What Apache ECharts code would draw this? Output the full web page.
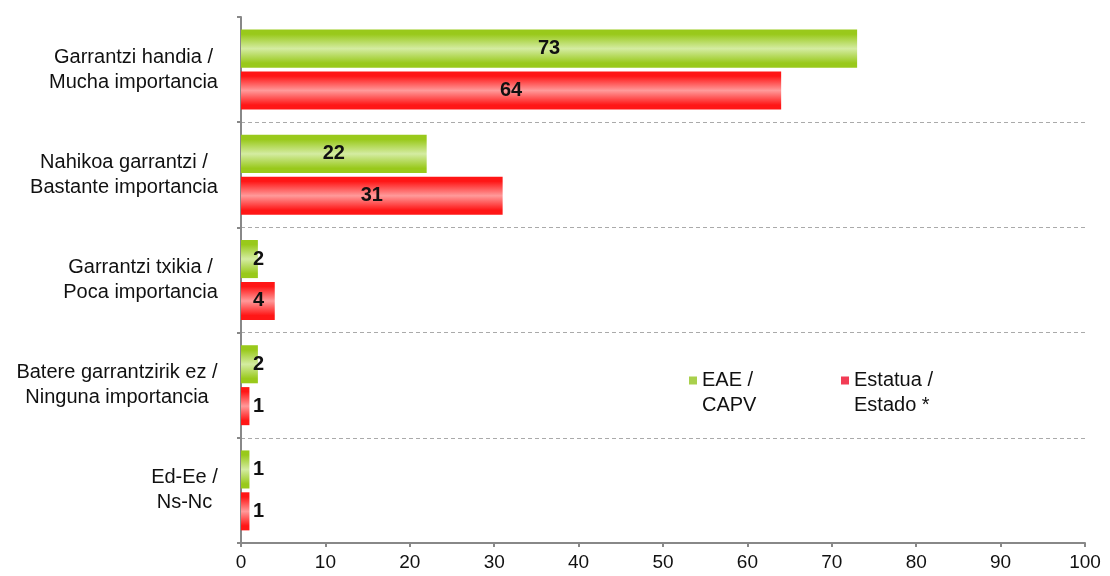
<!DOCTYPE html>
<html>
<head>
<meta charset="utf-8">
<script src="https://cdn.jsdelivr.net/npm/echarts@6/dist/echarts.min.js"></script>
<style>
  html, body { margin: 0; padding: 0; background: #fff; }
  #chart { width: 1110px; height: 576px; }
</style>
</head>
<body>
<div id="chart"></div>
<script>
// categories, top to bottom
var categories = [
  'Garrantzi handia /\nMucha importancia',
  'Nahikoa garrantzi /\nBastante importancia',
  'Garrantzi txikia /\nPoca importancia',
  'Batere garrantzirik ez /\nNinguna importancia',
  'Ed-Ee /\nNs-Nc'
];
var seriesNames = ['EAE /\nCAPV', 'Estatua /\nEstado *'];
var eaeValues = [73, 22, 2, 2, 1];
var estadoValues = [64, 31, 4, 1, 1];

var font = 'Liberation Sans, Arial, sans-serif';
var labelSize = 20;

// each label block: lines centred inside the block, block right-aligned to the axis
var ctx = document.createElement('canvas').getContext('2d');
ctx.font = labelSize + 'px "Liberation Sans"';
var rich = {};
categories.forEach(function (c, i) {
  var w = 0;
  c.split('\n').forEach(function (l) {
    w = Math.max(w, ctx.measureText(l).width);
  });
  rich['c' + i] = {
    width: Math.ceil(w),
    align: 'center',
    fontFamily: font,
    fontSize: labelSize,
    lineHeight: 25,
    color: '#111'
  };
});

// bar fill: dark edges, light middle
function barFill(edge, mid) {
  return {
    type: 'linear', x: 0, y: 0, x2: 0, y2: 1,
    colorStops: [
      {offset: 0, color: edge},
      {offset: 0.12, color: edge},
      {offset: 0.5, color: mid},
      {offset: 0.88, color: edge},
      {offset: 1, color: edge}
    ]
  };
}

// small bars: label pushed a bit right of the axis
function makeData(values) {
  return values.map(function (v) {
    var big = v > 5;
    return {
      value: v,
      label: {
        position: big ? 'inside' : 'insideLeft',
        distance: big ? 0 : 12
      }
    };
  });
}

var labelStyle = {
  show: true,
  color: '#111',
  fontFamily: font,
  fontWeight: 'bold',
  fontSize: 20
};

// legend icon: square sitting on the first text line
var legendIcon = 'path://M0,0L8,0L8,8L0,8Z M0,33L8,33';

function legendAt(left, name, color) {
  return {
    data: [{name: name, itemStyle: {color: color}}],
    left: left,
    top: 363,
    icon: legendIcon,
    itemWidth: 8,
    itemHeight: 33,
    itemGap: 0,
    textStyle: {
      fontFamily: font,
      fontSize: 20,
      color: '#111',
      lineHeight: 25
    }
  };
}

var chart = echarts.init(document.getElementById('chart'));
chart.setOption({
  animation: false,
  backgroundColor: '#fff',
  grid: {
    left: 241,
    right: 25,
    top: 17,
    bottom: 33,
    containLabel: false
  },
  legend: [
    legendAt(684, seriesNames[0], '#a9d04c'),
    legendAt(836, seriesNames[1], '#f23c55')
  ],
  xAxis: {
    type: 'value',
    min: 0,
    max: 100,
    interval: 10,
    splitLine: {show: false},
    axisLine: {show: true, lineStyle: {color: '#888', width: 2}},
    axisTick: {show: true, length: 4, lineStyle: {color: '#888', width: 2}},
    axisLabel: {
      color: '#111',
      fontFamily: font,
      fontSize: 19,
      margin: 10
    }
  },
  yAxis: {
    type: 'category',
    inverse: true,
    data: categories,
    axisLine: {show: true, lineStyle: {color: '#888', width: 2}},
    axisTick: {show: true, length: 4, lineStyle: {color: '#888', width: 2}},
    splitLine: {
      show: true,
      lineStyle: {
        color: ['rgba(0,0,0,0)', '#aaa', '#aaa', '#aaa', '#aaa', 'rgba(0,0,0,0)'],
        type: [4, 3],
        width: 1
      }
    },
    axisLabel: {
      align: 'right',
      margin: 23,
      rich: rich,
      formatter: function (value, index) {
        return value.split('\n').map(function (l) {
          return '{c' + index + '|' + l + '}';
        }).join('\n');
      }
    }
  },
  series: [
    {
      name: seriesNames[0],
      type: 'bar',
      data: makeData(eaeValues),
      barCategoryGap: '24%',
      barGap: '10%',
      itemStyle: {color: barFill('#99c91b', '#d4eca2')},
      label: labelStyle
    },
    {
      name: seriesNames[1],
      type: 'bar',
      data: makeData(estadoValues),
      barCategoryGap: '24%',
      barGap: '10%',
      itemStyle: {color: barFill('#ff1616', '#ff9a9a')},
      label: labelStyle
    }
  ]
});
</script>
</body>
</html>
